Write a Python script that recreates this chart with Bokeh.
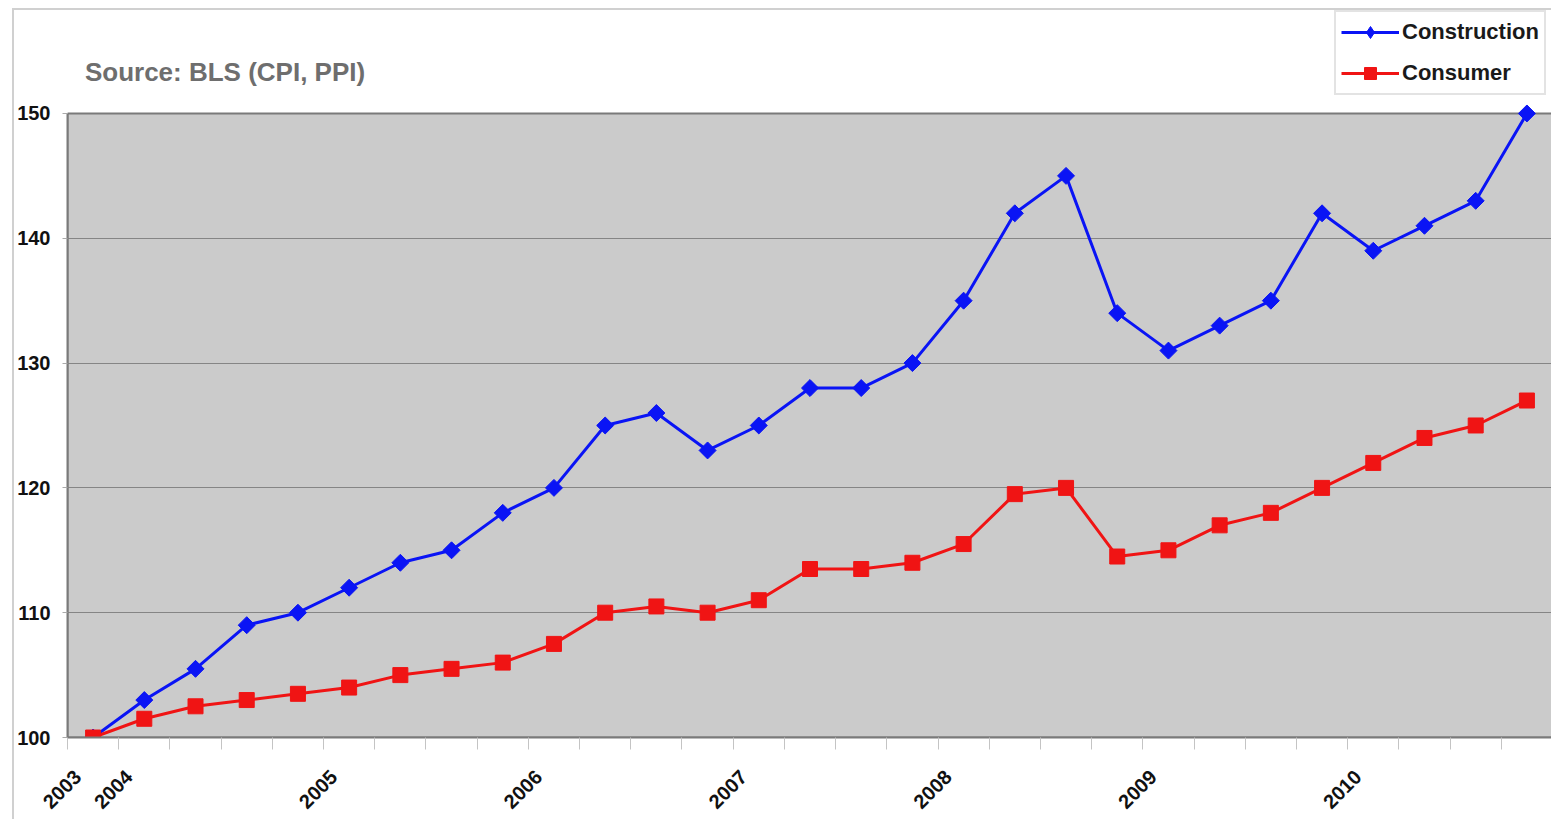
from bokeh.plotting import figure
from bokeh.models import Range1d, FixedTicker, Legend, LegendItem, Label, ColumnDataSource
from bokeh.embed import file_html
from bokeh.resources import INLINE
import math

# ---- data ----
x_labels = ["2003", "2004", "", "", "", "2005", "", "", "", "2006", "", "", "", "2007",
            "", "", "", "2008", "", "", "", "2009", "", "", "", "2010", "", "", ""]
construction = [100, 103, 105.5, 109, 110, 112, 114, 115, 118, 120, 125, 126, 123, 125,
                128, 128, 130, 135, 142, 145, 134, 131, 133, 135, 142, 139, 141, 143, 150]
consumer = [100, 101.5, 102.5, 103, 103.5, 104, 105, 105.5, 106, 107.5, 110, 110.5, 110, 111,
            113.5, 113.5, 114, 115.5, 119.5, 120, 114.5, 115, 117, 118, 120, 122, 124, 125, 127]
y_ticks = [100, 110, 120, 130, 140, 150]
source_text = "Source: BLS (CPI, PPI)"

idx = list(range(len(construction)))
src = ColumnDataSource(dict(x=idx, c=construction, k=consumer))

FONT = "Liberation Sans"
X_LO, X_HI = -0.5, len(idx) - 0.5
Y_TOP = 158.25         # white header space above the plot area
LABEL_SHIFT = -0.3     # shift of rotated year labels

p = figure(width=1539, height=811, output_backend="svg", toolbar_location=None,
           x_range=Range1d(X_LO, X_HI), y_range=Range1d(y_ticks[0], Y_TOP),
           min_border_left=52, min_border_right=1, min_border_top=0, min_border_bottom=84,
           margin=(8, 0, 0, 12),
           styles={"border-top": "2px solid #d0d0d0", "border-left": "2px solid #d0d0d0"})

p.background_fill_color = "white"
p.border_fill_color = "white"
p.outline_line_color = None
p.xgrid.visible = False
p.ygrid.visible = False

# plot area (gray box) and gridlines
p.quad(left=[X_LO], right=[X_HI], bottom=[y_ticks[0]], top=[y_ticks[-1]],
       fill_color="#cbcbcb", line_color="#7a7a7a", line_width=2)
p.hspan(y=y_ticks[1:-1], line_color="#858585", line_width=1)

# y axis
p.yaxis.ticker = FixedTicker(ticks=y_ticks)
p.yaxis.bounds = (y_ticks[0], y_ticks[-1])
p.yaxis.major_label_text_font = FONT
p.yaxis.major_label_text_font_style = "bold"
p.yaxis.major_label_text_font_size = "20px"
p.yaxis.major_label_text_color = "#111111"
p.yaxis.axis_line_color = "#7a7a7a"
p.yaxis.axis_line_width = 2
p.yaxis.major_tick_in = 0
p.yaxis.major_tick_out = 5
p.yaxis.major_tick_line_color = "#aaaaaa"
p.yaxis.minor_tick_line_color = None
p.yaxis.major_label_standoff = 12

# x axis
major = [i + LABEL_SHIFT for i, s in enumerate(x_labels) if s]
major_txt = [s for s in x_labels if s]
minor = [i + 0.5 for i in range(-1, len(idx))]
p.xaxis.ticker = FixedTicker(ticks=major, minor_ticks=minor)
p.xaxis.major_label_overrides = {t: s for t, s in zip(major, major_txt)}
p.xaxis.major_label_orientation = math.pi / 4
p.xaxis.major_label_text_font = FONT
p.xaxis.major_label_text_font_style = "bold"
p.xaxis.major_label_text_font_size = "20px"
p.xaxis.major_label_text_color = "#111111"
p.xaxis.axis_line_color = "#7a7a7a"
p.xaxis.axis_line_width = 2
p.xaxis.major_tick_in = 0
p.xaxis.major_tick_out = 0
p.xaxis.minor_tick_in = 0
p.xaxis.minor_tick_out = 12
p.xaxis.minor_tick_line_color = "#c4c4c4"
p.xaxis.major_label_standoff = 24

blue = "#0a14f5"
red = "#f01414"
l1 = p.line("x", "c", source=src, line_color=blue, line_width=3)
m1 = p.scatter("x", "c", source=src, marker="square", angle=math.pi / 4, size=12,
               fill_color=blue, line_color=blue)
l2 = p.line("x", "k", source=src, line_color=red, line_width=3)
m2 = p.scatter("x", "k", source=src, marker="square", size=15, fill_color=red, line_color=red)

# legend proxy glyphs (a single NaN point, never visible in the plot)
proxy = ColumnDataSource(dict(x=[float("nan")], y=[float("nan")]))
d1 = p.scatter("x", "y", source=proxy, marker="diamond", size=21, fill_color=blue, line_color=blue)
r1 = p.scatter("x", "y", source=proxy, marker="square", size=13, fill_color=red, line_color=red)

legend = Legend(items=[LegendItem(label="Construction", renderers=[l1, d1]),
                       LegendItem(label="Consumer", renderers=[l2, r1])],
                location=(1267, 642))
legend.label_text_font = FONT
legend.label_text_font_style = "bold"
legend.label_text_font_size = "22px"
legend.label_text_color = "#1a1a1a"
legend.border_line_color = "#c8c8c8"
legend.border_line_width = 2
legend.background_fill_color = "white"
legend.background_fill_alpha = 1
legend.glyph_width = 58
legend.glyph_height = 30
legend.label_height = 30
legend.label_standoff = 3
legend.spacing = 11
legend.padding = 5
legend.margin = 0
p.add_layout(legend, "center")

src_label = Label(x=-0.16, y=153.3, text=source_text, text_font=FONT,
                  text_font_size="26px", text_font_style="bold", text_color="#6e6e6e",
                  text_baseline="middle", text_align="left")
p.add_layout(src_label)

open("out.html", "w").write(file_html(p, INLINE))
